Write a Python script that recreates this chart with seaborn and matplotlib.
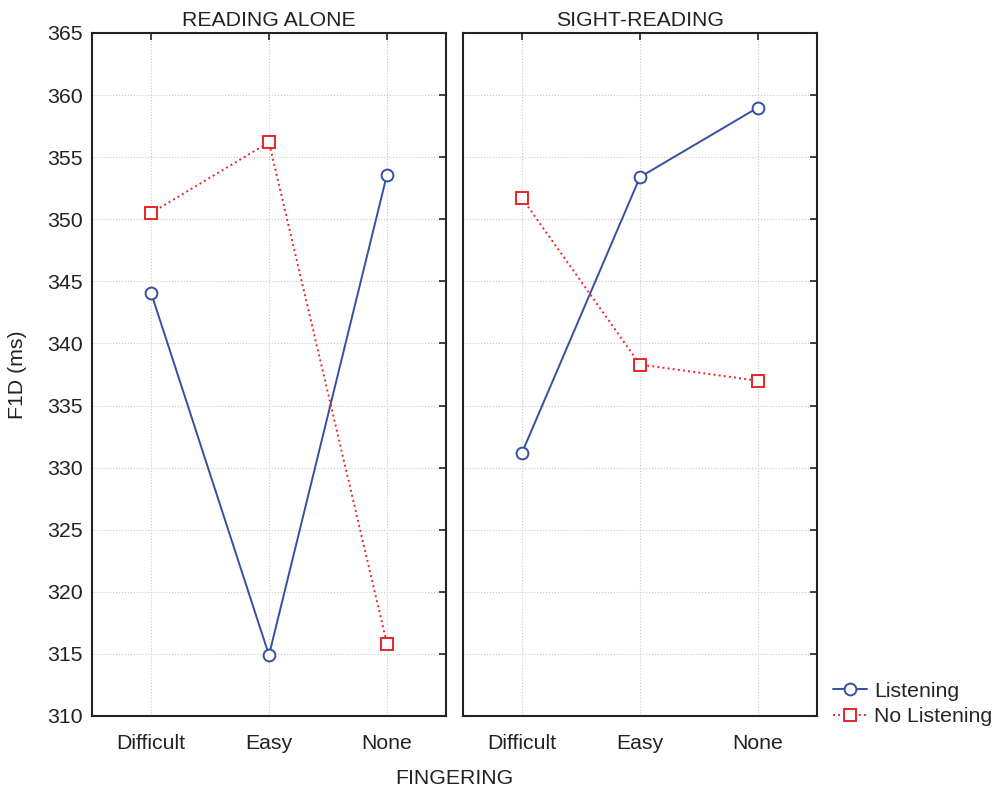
import matplotlib
matplotlib.use("Agg")
import matplotlib.pyplot as plt
import seaborn as sns
import pandas as pd
from matplotlib.lines import Line2D

conditions = ["READING ALONE", "SIGHT-READING"]
fingering = ["Difficult", "Easy", "None"]
groups = ["Listening", "No Listening"]
reading_listening = [344.1, 314.9, 353.6]
reading_nolistening = [350.5, 356.2, 315.8]
sight_listening = [331.2, 353.4, 359.0]
sight_nolistening = [351.7, 338.3, 337.0]
yticks = [310, 315, 320, 325, 330, 335, 340, 345, 350, 355, 360, 365]

rows = []
for cond, lis, nol in [(conditions[0], reading_listening, reading_nolistening),
                       (conditions[1], sight_listening, sight_nolistening)]:
    for f, v in zip(fingering, lis):
        rows.append((cond, f, groups[0], v))
    for f, v in zip(fingering, nol):
        rows.append((cond, f, groups[1], v))
df = pd.DataFrame(rows, columns=["cond", "fingering", "group", "value"])

sns.set_theme(style="white")
plt.rcParams["font.family"] = ["Liberation Sans", "DejaVu Sans"]

blue = "#3550a3"
red = "#ec2227"
palette = {groups[0]: blue, groups[1]: red}
fs = 15.3
ms = 8.5

fig, axes = plt.subplots(1, 2, figsize=(10.01, 7.90), dpi=100, sharey=True)
fig.subplots_adjust(left=92/1001, right=817/1001, top=1-33/790, bottom=1-716/790, wspace=17/354)

for ax, cond in zip(axes, conditions):
    sub = df[df["cond"] == cond]
    sns.pointplot(data=sub, x="fingering", y="value", hue="group", order=fingering,
                  hue_order=groups, palette=palette, markers=["o", "s"],
                  linestyles=["-", ":"], ax=ax, legend=False, errorbar=None,
                  markersize=ms, linewidth=1.4)
    for ln in ax.lines:
        ln.set_markerfacecolor("white")
        ln.set_markeredgewidth(1.4)
        ln.set_markersize(ms)
    ax.set_xlim(-0.5, 2.5)
    ax.set_ylim(310, 365)
    ax.set_yticks(yticks)
    ax.set_title(cond, fontsize=fs, color="#222222", pad=5)
    ax.set_xlabel("")
    ax.set_ylabel("")
    ax.grid(True, linestyle=":", color="#c8c8c8", linewidth=0.8)
    for s in ax.spines.values():
        s.set_color("#222222")
        s.set_linewidth(1.5)
    ax.tick_params(direction="in", length=5, width=1.2, top=True, right=True,
                   labelsize=fs, colors="#222222", pad=13)
    ax.tick_params(axis="y", pad=7)

axes[0].set_ylabel("F1D (ms)", fontsize=fs, color="#222222", labelpad=14)
axes[1].tick_params(labelleft=False)

fig.text(454/1001, 1-778/790, "FINGERING", ha="center", va="center", fontsize=fs, color="#222222")

handles = [Line2D([0], [0], color=blue, ls="-", marker="o", mfc="white", ms=ms, lw=1.4, mew=1.4),
           Line2D([0], [0], color=red, ls=":", marker="s", mfc="white", ms=ms, lw=1.4, mew=1.4)]
fig.legend(handles, groups, loc="center left", bbox_to_anchor=(833/1001, 1-704/790),
           frameon=False, fontsize=fs, handlelength=1.6, handletextpad=0.35,
           labelspacing=0.3, borderaxespad=0, borderpad=0)

fig.savefig("out.png", dpi=100)
